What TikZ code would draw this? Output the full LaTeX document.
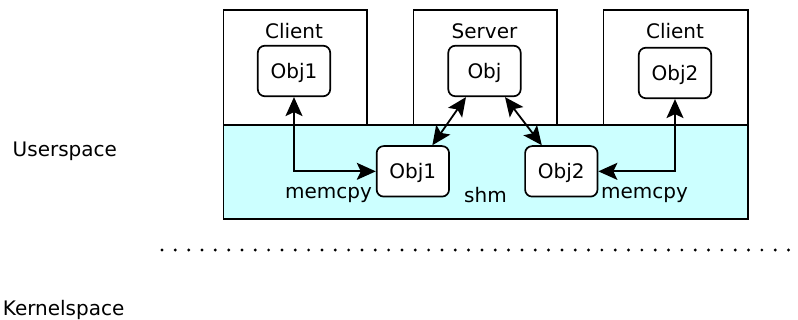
\documentclass[tikz,border=0pt]{standalone}
\usepackage{fontspec}
\setmainfont{DejaVu Sans}
\usetikzlibrary{arrows.meta,calc}
\definecolor{shmfill}{RGB}{204,255,255}
\tikzset{
  procbox/.style={draw, line width=1.7pt, anchor=north west, inner sep=0pt},
  objbox/.style={draw, line width=1.7pt, rounded corners=7pt, fill=white,
    minimum width=72.4pt, minimum height=50.5pt, inner sep=0pt,
    text height=14.6pt, text depth=0pt},
  lbl/.style={inner sep=0pt},
  link/.style={line width=1.8pt, {Stealth[length=19pt,width=17pt,inset=4pt]}-{Stealth[length=19pt,width=17pt,inset=4pt]}}
}
\begin{document}
\begin{tikzpicture}[x=1pt, y=-1pt, font=\fontsize{20}{24}\selectfont]
\useasboundingbox (0,0) rectangle (798,320);

% process boxes
\node[procbox, minimum width=143.3pt, minimum height=115pt] (c1) at (222.7,9.3) {};
\node[procbox, minimum width=143.3pt, minimum height=115pt] (srv) at (412.7,9.3) {};
\node[procbox, minimum width=144.6pt, minimum height=115pt] (c2) at (602.7,9.3) {};

% shared memory area
\node[procbox, fill=shmfill, minimum width=524.6pt, minimum height=94pt] (shm) at (222.7,124.3) {};

% titles
\node[lbl, anchor=base] (t1) at (294,39) {Client};
\node[lbl, anchor=base] (t2) at (484.5,39) {Server};
\node[lbl, anchor=base] (t3) at (675,39) {Client};

% objects
\node[objbox] (o1t) at (294,71) {Obj1};
\node[objbox] (os) at (484.5,71) {Obj};
\node[objbox] (o2t) at (675,73) {Obj2};
\node[objbox] (o1s) at (412.85,171.35) {Obj1};
\node[objbox] (o2s) at (561.3,171.35) {Obj2};

% connectors
\draw[link] (o1t.south) |- (o1s.west);
\draw[link] (o2t.south) |- (o2s.east);
\draw[link] ([xshift=-18.5pt]os.south) -- ([xshift=19.5pt]o1s.north);
\draw[link] ([xshift=20.5pt]os.south) -- ([xshift=-19.5pt]o2s.north);

% labels
\node[lbl, anchor=base west] (m1) at (285,198.5) {memcpy};
\node[lbl, anchor=base west] (m2) at (601,198.5) {memcpy};
\node[lbl, anchor=base west] (shml) at (464,203) {shm};
\node[lbl, anchor=base west] (us) at (12.5,156.7) {Userspace};
\node[lbl, anchor=base west] (ks) at (2.7,315.3) {Kernelspace};

% user/kernel boundary
\coordinate (b1) at (162,250);
\coordinate (b2) at (793,250);
\draw[line width=3.2pt, line cap=round, dash pattern=on 0pt off 13.33pt] (b1) -- (b2);
\end{tikzpicture}
\end{document}
